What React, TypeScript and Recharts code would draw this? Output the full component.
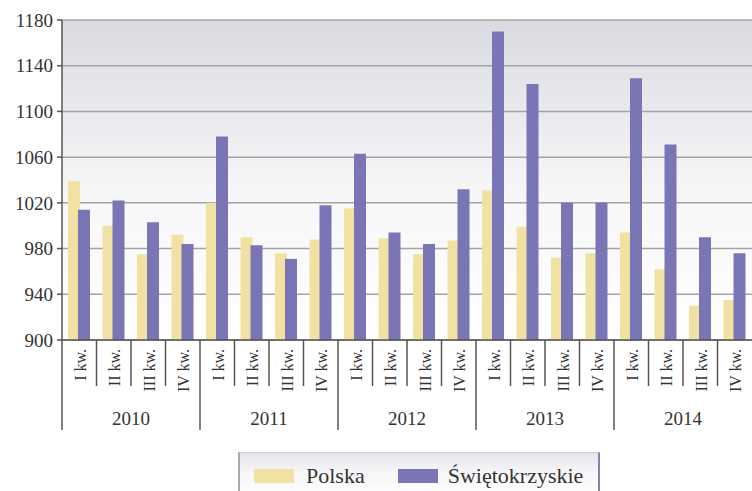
import React from 'react';
import { BarChart, Bar, XAxis, YAxis, CartesianGrid, Legend } from 'recharts';

const years = ['2010', '2011', '2012', '2013', '2014'];
const quarters = ['I kw.', 'II kw.', 'III kw.', 'IV kw.'];

// values, quarter by quarter
const polska = [
  1039, 1000, 975, 992,
  1020, 990, 976, 988,
  1015, 989, 975, 987,
  1031, 999, 972, 976,
  994, 962, 930, 935,
];
const swietokrzyskie = [
  1014, 1022, 1003, 984,
  1078, 983, 971, 1018,
  1063, 994, 984, 1032,
  1170, 1124, 1020, 1020,
  1129, 1071, 990, 976,
];

const yTicks = [900, 940, 980, 1020, 1060, 1100, 1140, 1180];

const COLORS = {
  polska: '#f1e1a2',
  swiet: '#7a76b6',
};

const FONT = "'Liberation Serif', 'Times New Roman', Times, 'Noto Serif', 'DejaVu Serif', FreeSerif, Tinos, serif";

const data = polska.map((p, i) => ({
  key: `${years[Math.floor(i / 4)]}-${quarters[i % 4]}`,
  year: years[Math.floor(i / 4)],
  quarter: quarters[i % 4],
  qIndex: i % 4,
  Polska: p,
  Swiet: swietokrzyskie[i],
}));

const QuarterTick = (props: any) => {
  const { x, y, payload, index } = props;
  const row = data[index] || data[0];
  const half = payload && payload.offset ? payload.offset : 17.25;
  const left = x - half;
  return (
    <g>
      <line
        x1={left}
        x2={left}
        y1={y}
        y2={row.qIndex === 0 ? y + 90 : y + 46}
        stroke="#555"
        strokeWidth={1.5}
      />
      <text
        transform={`translate(${x + 1}, ${y + 9}) rotate(-90)`}
        textAnchor="end"
        dominantBaseline="central"
        style={{ fontFamily: FONT }}
        fontSize={16}
        fill="#333"
      >
        {row.quarter}
      </text>
      {row.qIndex === 1 && (
        <text
          x={x + half}
          y={y + 78}
          textAnchor="middle"
          dominantBaseline="central"
          style={{ fontFamily: FONT }}
          fontSize={19}
          fill="#333"
        >
          {row.year}
        </text>
      )}
    </g>
  );
};

const LegendBox = () => (
  <div
    style={{
      display: 'flex',
      alignItems: 'center',
      height: 46,
      width: 362,
      boxSizing: 'border-box',
      paddingLeft: 14,
      background: 'linear-gradient(#e4e4ea, #f6f6f8 40%, #ffffff)',
      borderTop: '1px solid #d0d0d8',
      borderLeft: '2px solid #a9a9b6',
      borderRight: '2px solid #8581b0',
      fontFamily: FONT,
      fontSize: 22,
      color: '#333',
    }}
  >
    <span style={{ display: 'inline-block', width: 40, height: 14, background: COLORS.polska }} />
    <span style={{ marginLeft: 12 }}>Polska</span>
    <span style={{ display: 'inline-block', width: 40, height: 14, background: COLORS.swiet, marginLeft: 33 }} />
    <span style={{ marginLeft: 10 }}>Świętokrzyskie</span>
  </div>
);

export default function App() {
  return (
    <div style={{ position: 'absolute', left: 0, top: 0, width: 752, height: 491, overflow: 'hidden', background: '#fff' }}>
      <BarChart
        width={752}
        height={491}
        data={data}
        margin={{ top: 20, right: 0, left: 0, bottom: 41 }}
        barSize={12}
        barGap={-2}
      >
        <defs>
          <linearGradient id="plotBg" x1="0" y1="0" x2="0" y2="1">
            <stop offset="0%" stopColor="#dadbe1" />
            <stop offset="55%" stopColor="#f7f7f9" />
            <stop offset="100%" stopColor="#ffffff" />
          </linearGradient>
        </defs>
        <CartesianGrid vertical={false} stroke="#a3a3a3" strokeWidth={1.5} fill="url(#plotBg)" fillOpacity={1} />
        <XAxis
          dataKey="key"
          interval={0}
          height={110}
          tickSize={0}
          tickMargin={0}
          tick={<QuarterTick />}
          axisLine={{ stroke: '#555', strokeWidth: 1.5 }}
          tickLine={false}
        />
        <YAxis
          domain={[900, 1180]}
          ticks={yTicks}
          width={62}
          tickSize={5}
          tickMargin={4}
          interval={0}
          axisLine={{ stroke: '#555', strokeWidth: 1.5 }}
          tickLine={{ stroke: '#555', strokeWidth: 1.5 }}
          tick={{ style: { fontFamily: FONT }, fontSize: 19, fill: '#333' }}
          allowDataOverflow
        />
        <Legend
          layout="horizontal"
          verticalAlign="middle"
          align="center"
          wrapperStyle={{ left: 238, top: 452, width: 362 }}
          content={<LegendBox />}
        />
        <Bar dataKey="Polska" name="Polska" fill={COLORS.polska} isAnimationActive={false} />
        <Bar dataKey="Swiet" name="Świętokrzyskie" fill={COLORS.swiet} isAnimationActive={false} />
      </BarChart>
    </div>
  );
}
